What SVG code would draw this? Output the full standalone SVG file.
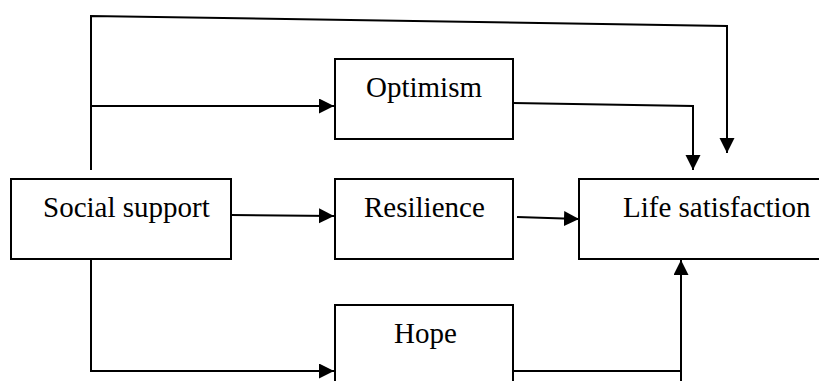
<svg xmlns="http://www.w3.org/2000/svg" width="819" height="381" viewBox="0 0 819 381">
<style>
.box{fill:#fff;stroke:#000;stroke-width:2}
.ln{fill:none;stroke:#000;stroke-width:2}
.arr{fill:none;stroke:#000;stroke-width:2;marker-end:url(#ah)}
text{font-family:"Liberation Serif","Times New Roman",serif;font-size:29px;fill:#000}
</style>
<defs>
<marker id="ah" markerUnits="userSpaceOnUse" markerWidth="16" markerHeight="16" refX="15" refY="7.5" orient="auto">
<path d="M0,0 L15,7.5 L0,15 z" fill="#000"/>
</marker>
</defs>
<g id="connectors">
<polyline class="arr" points="91,170 91,16 727,26 727,153"/>
<polyline class="arr" points="91,106 334,106"/>
<polyline class="arr" points="513,103 693,106 693,170"/>
<line class="arr" x1="231" y1="215" x2="334" y2="216"/>
<line class="arr" x1="517" y1="217" x2="579" y2="219"/>
<polyline class="arr" points="91,259 91,371 334,371"/>
<polyline class="ln" points="513,371 681,371"/>
<polyline class="arr" points="681,381 681,260"/>
</g>
<g id="optimism"><rect class="box" x="335" y="59" width="178" height="80"/><text x="366" y="97">Optimism</text></g>
<g id="social-support"><rect class="box" x="11" y="179" width="220" height="80"/><text x="43" y="217">Social support</text></g>
<g id="resilience"><rect class="box" x="335" y="179" width="178" height="80"/><text x="364" y="217">Resilience</text></g>
<g id="life-satisfaction"><rect class="box" x="579" y="179" width="260" height="80"/><text x="623" y="217">Life satisfaction</text></g>
<g id="hope"><rect class="box" x="335" y="305" width="178" height="100"/><text x="394" y="343">Hope</text></g>
</svg>
